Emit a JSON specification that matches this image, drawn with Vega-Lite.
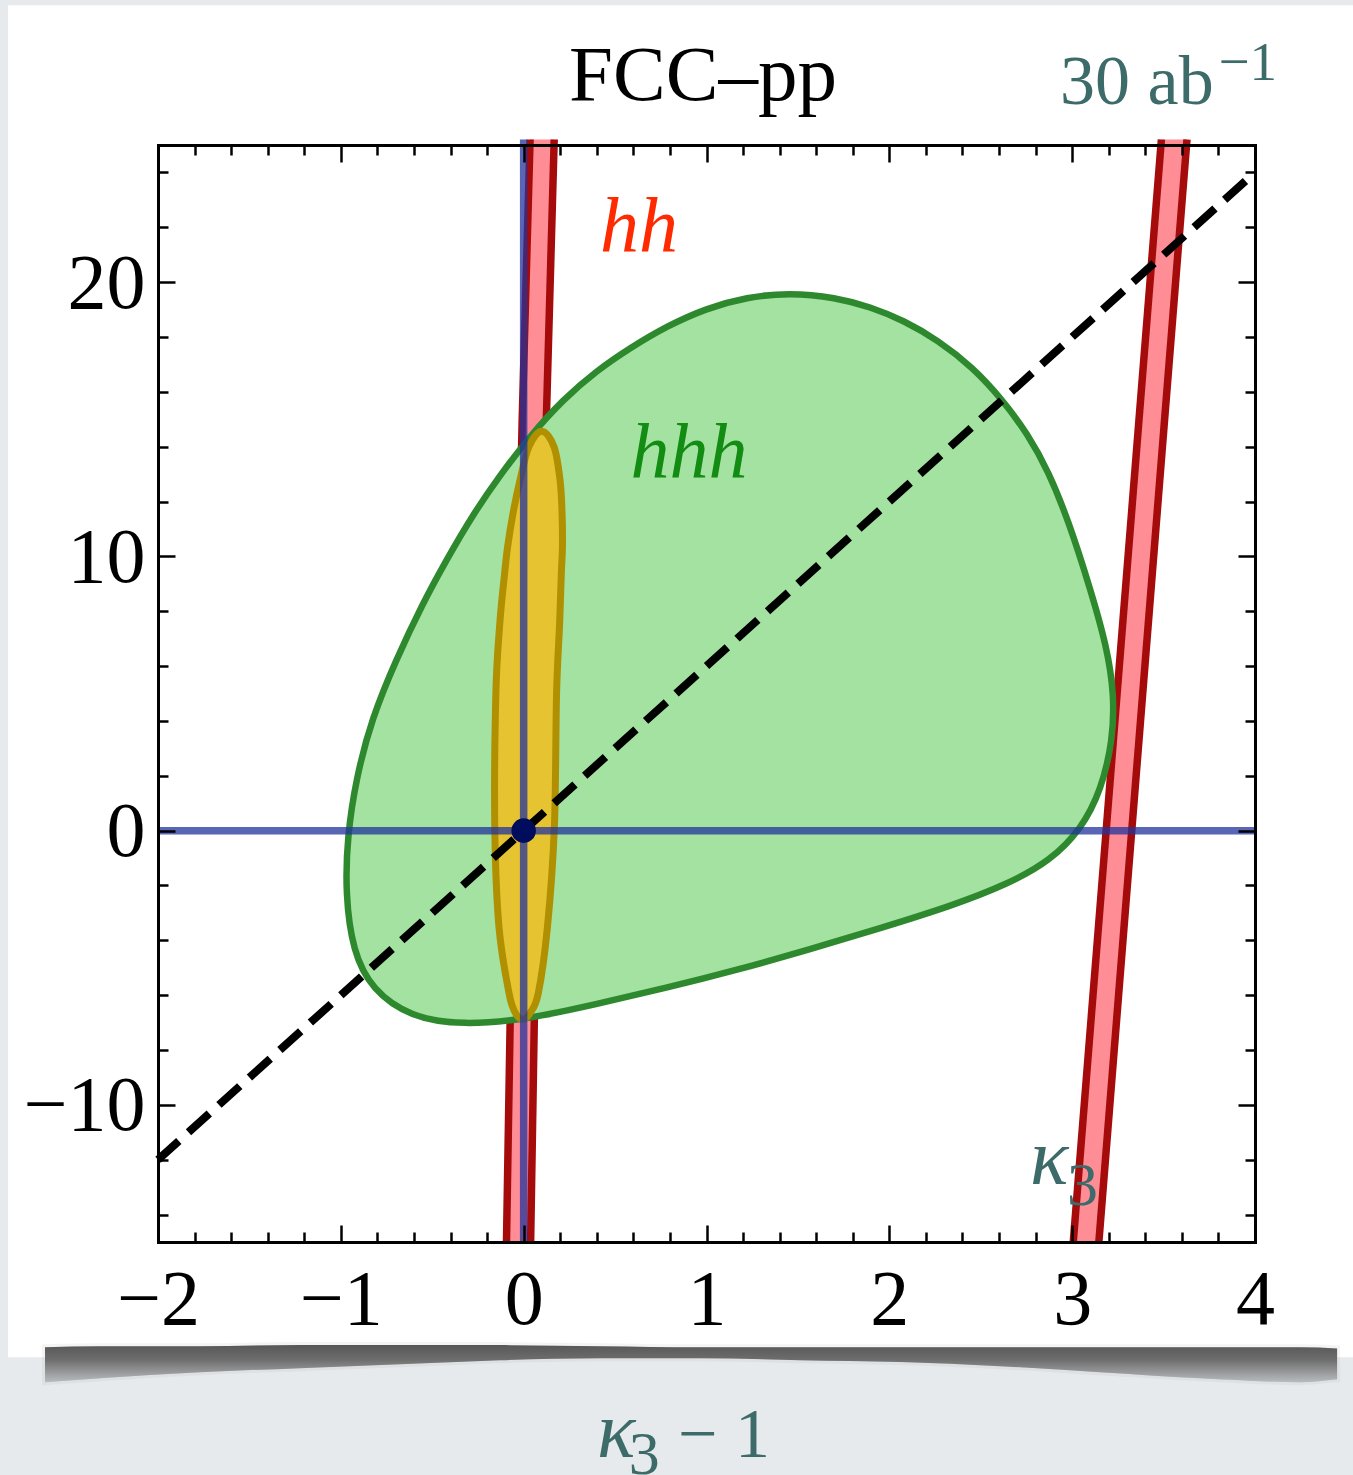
{
  "$schema": "https://vega.github.io/schema/vega-lite/v6.json",
  "width": 1097,
  "height": 1097,
  "autosize": {"type": "none"},
  "padding": {"left": 158, "top": 145, "right": 98, "bottom": 233},
  "background": "#e7eaed",
  "config": {
    "view": {"stroke": null, "fill": null},
    "axis": {
      "domainColor": "black",
      "domainWidth": 3,
      "domainCap": "square",
      "tickColor": "black",
      "tickWidth": 2.5,
      "labelFont": "Liberation Serif",
      "labelFontSize": 78,
      "labelColor": "black",
      "grid": false,
      "labelOverlap": false,
      "labelBound": false,
      "labelFlush": false,
      "tickCount": 100
    },
    "text": {"font": "Liberation Serif"}
  },
  "datasets": {
    "bands": [
      {"band": "L", "y": -15, "x": -0.094, "xr": 0.038},
      {"band": "L", "y": -5, "x": -0.069, "xr": 0.063},
      {"band": "L", "y": 5, "x": -0.042, "xr": 0.09},
      {"band": "L", "y": 15, "x": -0.008, "xr": 0.124},
      {"band": "L", "y": 25.2, "x": 0.035, "xr": 0.167},
      {"band": "R", "y": -15, "x": 3.006, "xr": 3.146},
      {"band": "R", "y": 25.2, "x": 3.488, "xr": 3.628}
    ],
    "bandEdges": [
      {"edge": "L-left", "y": -15, "x": -0.094},
      {"edge": "L-left", "y": -5, "x": -0.069},
      {"edge": "L-left", "y": 5, "x": -0.042},
      {"edge": "L-left", "y": 15, "x": -0.008},
      {"edge": "L-left", "y": 25.2, "x": 0.035},
      {"edge": "L-right", "y": -15, "x": 0.038},
      {"edge": "L-right", "y": -5, "x": 0.063},
      {"edge": "L-right", "y": 5, "x": 0.09},
      {"edge": "L-right", "y": 15, "x": 0.124},
      {"edge": "L-right", "y": 25.2, "x": 0.167},
      {"edge": "R-left", "y": -15, "x": 3.006},
      {"edge": "R-left", "y": 25.2, "x": 3.488},
      {"edge": "R-right", "y": -15, "x": 3.146},
      {"edge": "R-right", "y": 25.2, "x": 3.628}
    ],
    "hhh": [
      {"i": 1, "x": 1.451, "y": 19.62},
      {"i": 2, "x": 1.708, "y": 19.44},
      {"i": 3, "x": 1.894, "y": 19.1},
      {"i": 4, "x": 2.08, "y": 18.6},
      {"i": 5, "x": 2.266, "y": 17.88},
      {"i": 6, "x": 2.452, "y": 16.92},
      {"i": 7, "x": 2.616, "y": 15.74},
      {"i": 8, "x": 2.758, "y": 14.45},
      {"i": 9, "x": 2.87, "y": 13.1},
      {"i": 10, "x": 2.98, "y": 11.3},
      {"i": 11, "x": 3.1, "y": 8.8},
      {"i": 12, "x": 3.19, "y": 6.7},
      {"i": 13, "x": 3.23, "y": 4.94},
      {"i": 14, "x": 3.222, "y": 3.3},
      {"i": 15, "x": 3.16, "y": 1.5},
      {"i": 16, "x": 3.05, "y": 0.05},
      {"i": 17, "x": 2.88, "y": -1.1},
      {"i": 18, "x": 2.649, "y": -1.95},
      {"i": 19, "x": 2.343, "y": -2.74},
      {"i": 20, "x": 1.954, "y": -3.55},
      {"i": 21, "x": 1.566, "y": -4.33},
      {"i": 22, "x": 1.178, "y": -5.06},
      {"i": 23, "x": 0.784, "y": -5.73},
      {"i": 24, "x": 0.396, "y": -6.33},
      {"i": 25, "x": 0.035, "y": -6.86},
      {"i": 26, "x": -0.332, "y": -7.1},
      {"i": 27, "x": -0.62, "y": -6.8},
      {"i": 28, "x": -0.83, "y": -5.8},
      {"i": 29, "x": -0.935, "y": -4.4},
      {"i": 30, "x": -0.975, "y": -2.3},
      {"i": 31, "x": -0.965, "y": -0.2},
      {"i": 32, "x": -0.915, "y": 1.95},
      {"i": 33, "x": -0.83, "y": 4.1},
      {"i": 34, "x": -0.7, "y": 6.2},
      {"i": 35, "x": -0.555, "y": 8.25},
      {"i": 36, "x": -0.42, "y": 9.9},
      {"i": 37, "x": -0.28, "y": 11.5},
      {"i": 38, "x": -0.13, "y": 12.95},
      {"i": 39, "x": 0.03, "y": 14.35},
      {"i": 40, "x": 0.215, "y": 15.72},
      {"i": 41, "x": 0.401, "y": 16.78},
      {"i": 42, "x": 0.582, "y": 17.6},
      {"i": 43, "x": 0.784, "y": 18.4},
      {"i": 44, "x": 1.0, "y": 19.05},
      {"i": 45, "x": 1.22, "y": 19.45}
    ],
    "combined": [
      {"i": 1, "x": 0.099, "y": 14.56},
      {"i": 2, "x": 0.166, "y": 14.0},
      {"i": 3, "x": 0.199, "y": 12.78},
      {"i": 4, "x": 0.21, "y": 11.58},
      {"i": 5, "x": 0.212, "y": 10.34},
      {"i": 6, "x": 0.206, "y": 9.39},
      {"i": 7, "x": 0.197, "y": 7.6},
      {"i": 8, "x": 0.18, "y": 5.02},
      {"i": 9, "x": 0.168, "y": 0.13},
      {"i": 10, "x": 0.13, "y": -3.52},
      {"i": 11, "x": 0.08, "y": -5.93},
      {"i": 12, "x": 0.035, "y": -6.65},
      {"i": 13, "x": -0.005, "y": -6.88},
      {"i": 14, "x": -0.045, "y": -6.65},
      {"i": 15, "x": -0.08, "y": -5.93},
      {"i": 16, "x": -0.135, "y": -3.52},
      {"i": 17, "x": -0.158, "y": 0.13},
      {"i": 18, "x": -0.152, "y": 5.02},
      {"i": 19, "x": -0.13, "y": 7.6},
      {"i": 20, "x": -0.104, "y": 9.39},
      {"i": 21, "x": -0.088, "y": 10.34},
      {"i": 22, "x": -0.058, "y": 11.58},
      {"i": 23, "x": -0.02, "y": 12.78},
      {"i": 24, "x": 0.029, "y": 14.0}
    ],
    "shadow": [
      {"x": -2.618, "y": -20.11, "y2": -18.84},
      {"x": -2.317, "y": -19.97, "y2": -18.8},
      {"x": -1.77, "y": -19.75, "y2": -18.8},
      {"x": -1.223, "y": -19.6, "y2": -18.76},
      {"x": -0.676, "y": -19.46, "y2": -18.76},
      {"x": -0.129, "y": -19.31, "y2": -18.76},
      {"x": 0.418, "y": -19.24, "y2": -18.8},
      {"x": 0.964, "y": -19.24, "y2": -18.84},
      {"x": 1.511, "y": -19.31, "y2": -18.84},
      {"x": 2.058, "y": -19.38, "y2": -18.84},
      {"x": 2.605, "y": -19.53, "y2": -18.84},
      {"x": 3.152, "y": -19.75, "y2": -18.84},
      {"x": 3.699, "y": -19.97, "y2": -18.84},
      {"x": 4.246, "y": -20.11, "y2": -18.84},
      {"x": 4.449, "y": -20.0, "y2": -18.88}
    ]
  },
  "resolve": {"axis": {"x": "independent", "y": "independent"}},
  "layer": [
    {
      "encoding": {
        "x": {
          "field": "x", "type": "quantitative", "title": null,
          "scale": {"domain": [-2, 4], "nice": false, "zero": false},
          "axis": {
            "orient": "bottom", "zindex": 1,
            "values": [-2, -1, 0, 1, 2, 3, 4],
            "format": "d",
            "tickSize": -17,
            "labelPadding": 98,
            "labelAlign": "center",
            "labelBaseline": "alphabetic"
          }
        },
        "y": {
          "field": "y", "type": "quantitative", "title": null,
          "scale": {"domain": [-15, 25], "nice": false, "zero": false},
          "axis": {
            "orient": "left", "zindex": 1,
            "values": [-10, 0, 10, 20],
            "format": "d",
            "tickSize": -17,
            "labelPadding": 30,
            "labelAlign": "right",
            "labelBaseline": "middle",
            "labelOffset": 2
          }
        }
      },
      "layer": [
        {
          "data": {"values": [{"x": -2.82, "x2": 4.7, "y": 30.1, "y2": -19.2}]},
          "mark": {"type": "rect", "color": "white", "clip": false},
          "encoding": {
            "x2": {"field": "x2"},
            "y2": {"field": "y2"}
          }
        },
        {
          "data": {"name": "shadow"},
          "mark": {"type": "area", "clip": false, "interpolate": "monotone", "color": "#8a8c8e", "opacity": 0.35, "stroke": "#8a8c8e", "strokeWidth": 6, "strokeOpacity": 0.25},
          "encoding": {"y2": {"field": "y2"}}
        },
        {
          "data": {"name": "shadow"},
          "mark": {
            "type": "area", "clip": false, "interpolate": "monotone",
            "fill": {
              "gradient": "linear", "x1": 0, "y1": 0, "x2": 0, "y2": 1,
              "stops": [
                {"offset": 0, "color": "#575757"},
                {"offset": 0.4, "color": "#6e6e6e"},
                {"offset": 1, "color": "#b8bbbe"}
              ]
            }
          },
          "encoding": {"y2": {"field": "y2"}}
        },
        {
          "data": {"name": "bands"},
          "mark": {"type": "area", "orient": "horizontal", "color": "#ff8d96", "clip": false},
          "encoding": {
            "x2": {"field": "xr"},
            "detail": {"field": "band"}
          }
        },
        {
          "data": {"name": "bandEdges"},
          "mark": {"type": "line", "color": "#a50b0b", "strokeWidth": 7.5, "clip": false},
          "encoding": {
            "detail": {"field": "edge"},
            "order": {"field": "y", "type": "quantitative"}
          }
        },
        {
          "data": {"name": "hhh"},
          "mark": {"type": "line", "interpolate": "basis-closed", "fill": "#a4e2a1", "stroke": "#2e892e", "strokeWidth": 6.5},
          "encoding": {"order": {"field": "i", "type": "quantitative"}}
        },
        {
          "data": {"name": "combined"},
          "mark": {"type": "line", "interpolate": "cardinal-closed", "fill": "#e6c431", "stroke": "#b08f00", "strokeWidth": 7},
          "encoding": {"order": {"field": "i", "type": "quantitative"}}
        },
        {
          "data": {"values": [
            {"x": -2, "y": 0, "x2": 4, "y2": 0},
            {"x": 0, "y": -15, "x2": 0, "y2": 25.2}
          ]},
          "mark": {"type": "rule", "color": "#22339c", "opacity": 0.75, "strokeWidth": 7.5},
          "encoding": {"x2": {"field": "x2"}, "y2": {"field": "y2"}}
        },
        {
          "data": {"values": [{"x": -2, "y": -12, "x2": 4, "y2": 24}]},
          "mark": {"type": "rule", "color": "black", "strokeWidth": 8, "strokeDash": [28, 13], "strokeCap": "butt"},
          "encoding": {"x2": {"field": "x2"}, "y2": {"field": "y2"}}
        },
        {
          "data": {"values": [{"x": 0.981, "y": 26.64, "label": "FCC–pp"}]},
          "mark": {"type": "text", "fontSize": 79, "align": "center", "baseline": "alphabetic", "color": "black"},
          "encoding": {"text": {"field": "label"}}
        },
        {
          "data": {"values": [{"x": 2.934, "y": 26.5, "label": "30 ab"}]},
          "mark": {"type": "text", "fontSize": 70, "align": "left", "baseline": "alphabetic", "color": "#3d6b69"},
          "encoding": {"text": {"field": "label"}}
        },
        {
          "data": {"values": [{"x": 3.8, "y": 27.37, "label": "−1"}]},
          "mark": {"type": "text", "fontSize": 55, "align": "left", "baseline": "alphabetic", "color": "#3d6b69"},
          "encoding": {"text": {"field": "label"}}
        },
        {
          "data": {"values": [{"x": 0.631, "y": 21.1, "label": "hh"}]},
          "mark": {"type": "text", "fontSize": 78, "fontStyle": "italic", "align": "center", "baseline": "alphabetic", "color": "#ff2a00"},
          "encoding": {"text": {"field": "label"}}
        },
        {
          "data": {"values": [{"x": 0.904, "y": 12.86, "label": "hhh"}]},
          "mark": {"type": "text", "fontSize": 78, "fontStyle": "italic", "align": "center", "baseline": "alphabetic", "color": "#128c12"},
          "encoding": {"text": {"field": "label"}}
        },
        {
          "data": {"values": [
            {"x": 2.769, "y": -12.89, "label": "κ"},
            {"x": 0.401, "y": -22.85, "label": "κ"}
          ]},
          "mark": {"type": "text", "fontSize": 80, "fontStyle": "italic", "align": "left", "baseline": "alphabetic", "color": "#3d6b69", "clip": false},
          "encoding": {"text": {"field": "label"}}
        },
        {
          "data": {"values": [
            {"x": 2.972, "y": -13.66, "label": "3"},
            {"x": 0.575, "y": -23.45, "label": "3"}
          ]},
          "mark": {"type": "text", "fontSize": 62, "align": "left", "baseline": "alphabetic", "color": "#3d6b69", "clip": false},
          "encoding": {"text": {"field": "label"}}
        },
        {
          "data": {"values": [{"x": 0.844, "y": -22.85, "label": "− 1"}]},
          "mark": {"type": "text", "fontSize": 70, "align": "left", "baseline": "alphabetic", "color": "#3d6b69", "clip": false},
          "encoding": {"text": {"field": "label"}}
        }
      ]
    },
    {
      "data": {"values": [{"x": 0, "y": 0}]},
      "mark": {"type": "point", "filled": true, "size": 600, "color": "#000c5c", "opacity": 1},
      "encoding": {
        "x": {
          "field": "x", "type": "quantitative", "title": null,
          "scale": {"domain": [-2, 4], "nice": false, "zero": false},
          "axis": {"orient": "top", "zindex": 1, "labels": false, "values": [-2, -1, 0, 1, 2, 3, 4], "tickSize": -17}
        },
        "y": {
          "field": "y", "type": "quantitative", "title": null,
          "scale": {"domain": [-15, 25], "nice": false, "zero": false},
          "axis": {"orient": "right", "zindex": 1, "labels": false, "values": [-10, 0, 10, 20], "tickSize": -17}
        }
      }
    },
    {
      "data": {"values": [{"x": 0, "y": 0}]},
      "mark": {"type": "point", "opacity": 0},
      "encoding": {
        "x": {
          "field": "x", "type": "quantitative", "title": null,
          "scale": {"domain": [-2, 4], "nice": false, "zero": false},
          "axis": {
            "orient": "bottom", "zindex": 1, "labels": false, "domain": false, "tickSize": -10,
            "values": [-1.8, -1.6, -1.4, -1.2, -0.8, -0.6, -0.4, -0.2, 0.2, 0.4, 0.6, 0.8, 1.2, 1.4, 1.6, 1.8, 2.2, 2.4, 2.6, 2.8, 3.2, 3.4, 3.6, 3.8]
          }
        },
        "y": {
          "field": "y", "type": "quantitative", "title": null,
          "scale": {"domain": [-15, 25], "nice": false, "zero": false},
          "axis": {
            "orient": "left", "zindex": 1, "labels": false, "domain": false, "tickSize": -10,
            "values": [-14, -12, -8, -6, -4, -2, 2, 4, 6, 8, 12, 14, 16, 18, 22, 24]
          }
        }
      }
    },
    {
      "data": {"values": [{"x": 0, "y": 0}]},
      "mark": {"type": "point", "opacity": 0},
      "encoding": {
        "x": {
          "field": "x", "type": "quantitative", "title": null,
          "scale": {"domain": [-2, 4], "nice": false, "zero": false},
          "axis": {
            "orient": "top", "zindex": 1, "labels": false, "domain": false, "tickSize": -10,
            "values": [-1.8, -1.6, -1.4, -1.2, -0.8, -0.6, -0.4, -0.2, 0.2, 0.4, 0.6, 0.8, 1.2, 1.4, 1.6, 1.8, 2.2, 2.4, 2.6, 2.8, 3.2, 3.4, 3.6, 3.8]
          }
        },
        "y": {
          "field": "y", "type": "quantitative", "title": null,
          "scale": {"domain": [-15, 25], "nice": false, "zero": false},
          "axis": {
            "orient": "right", "zindex": 1, "labels": false, "domain": false, "tickSize": -10,
            "values": [-14, -12, -8, -6, -4, -2, 2, 4, 6, 8, 12, 14, 16, 18, 22, 24]
          }
        }
      }
    }
  ]
}
